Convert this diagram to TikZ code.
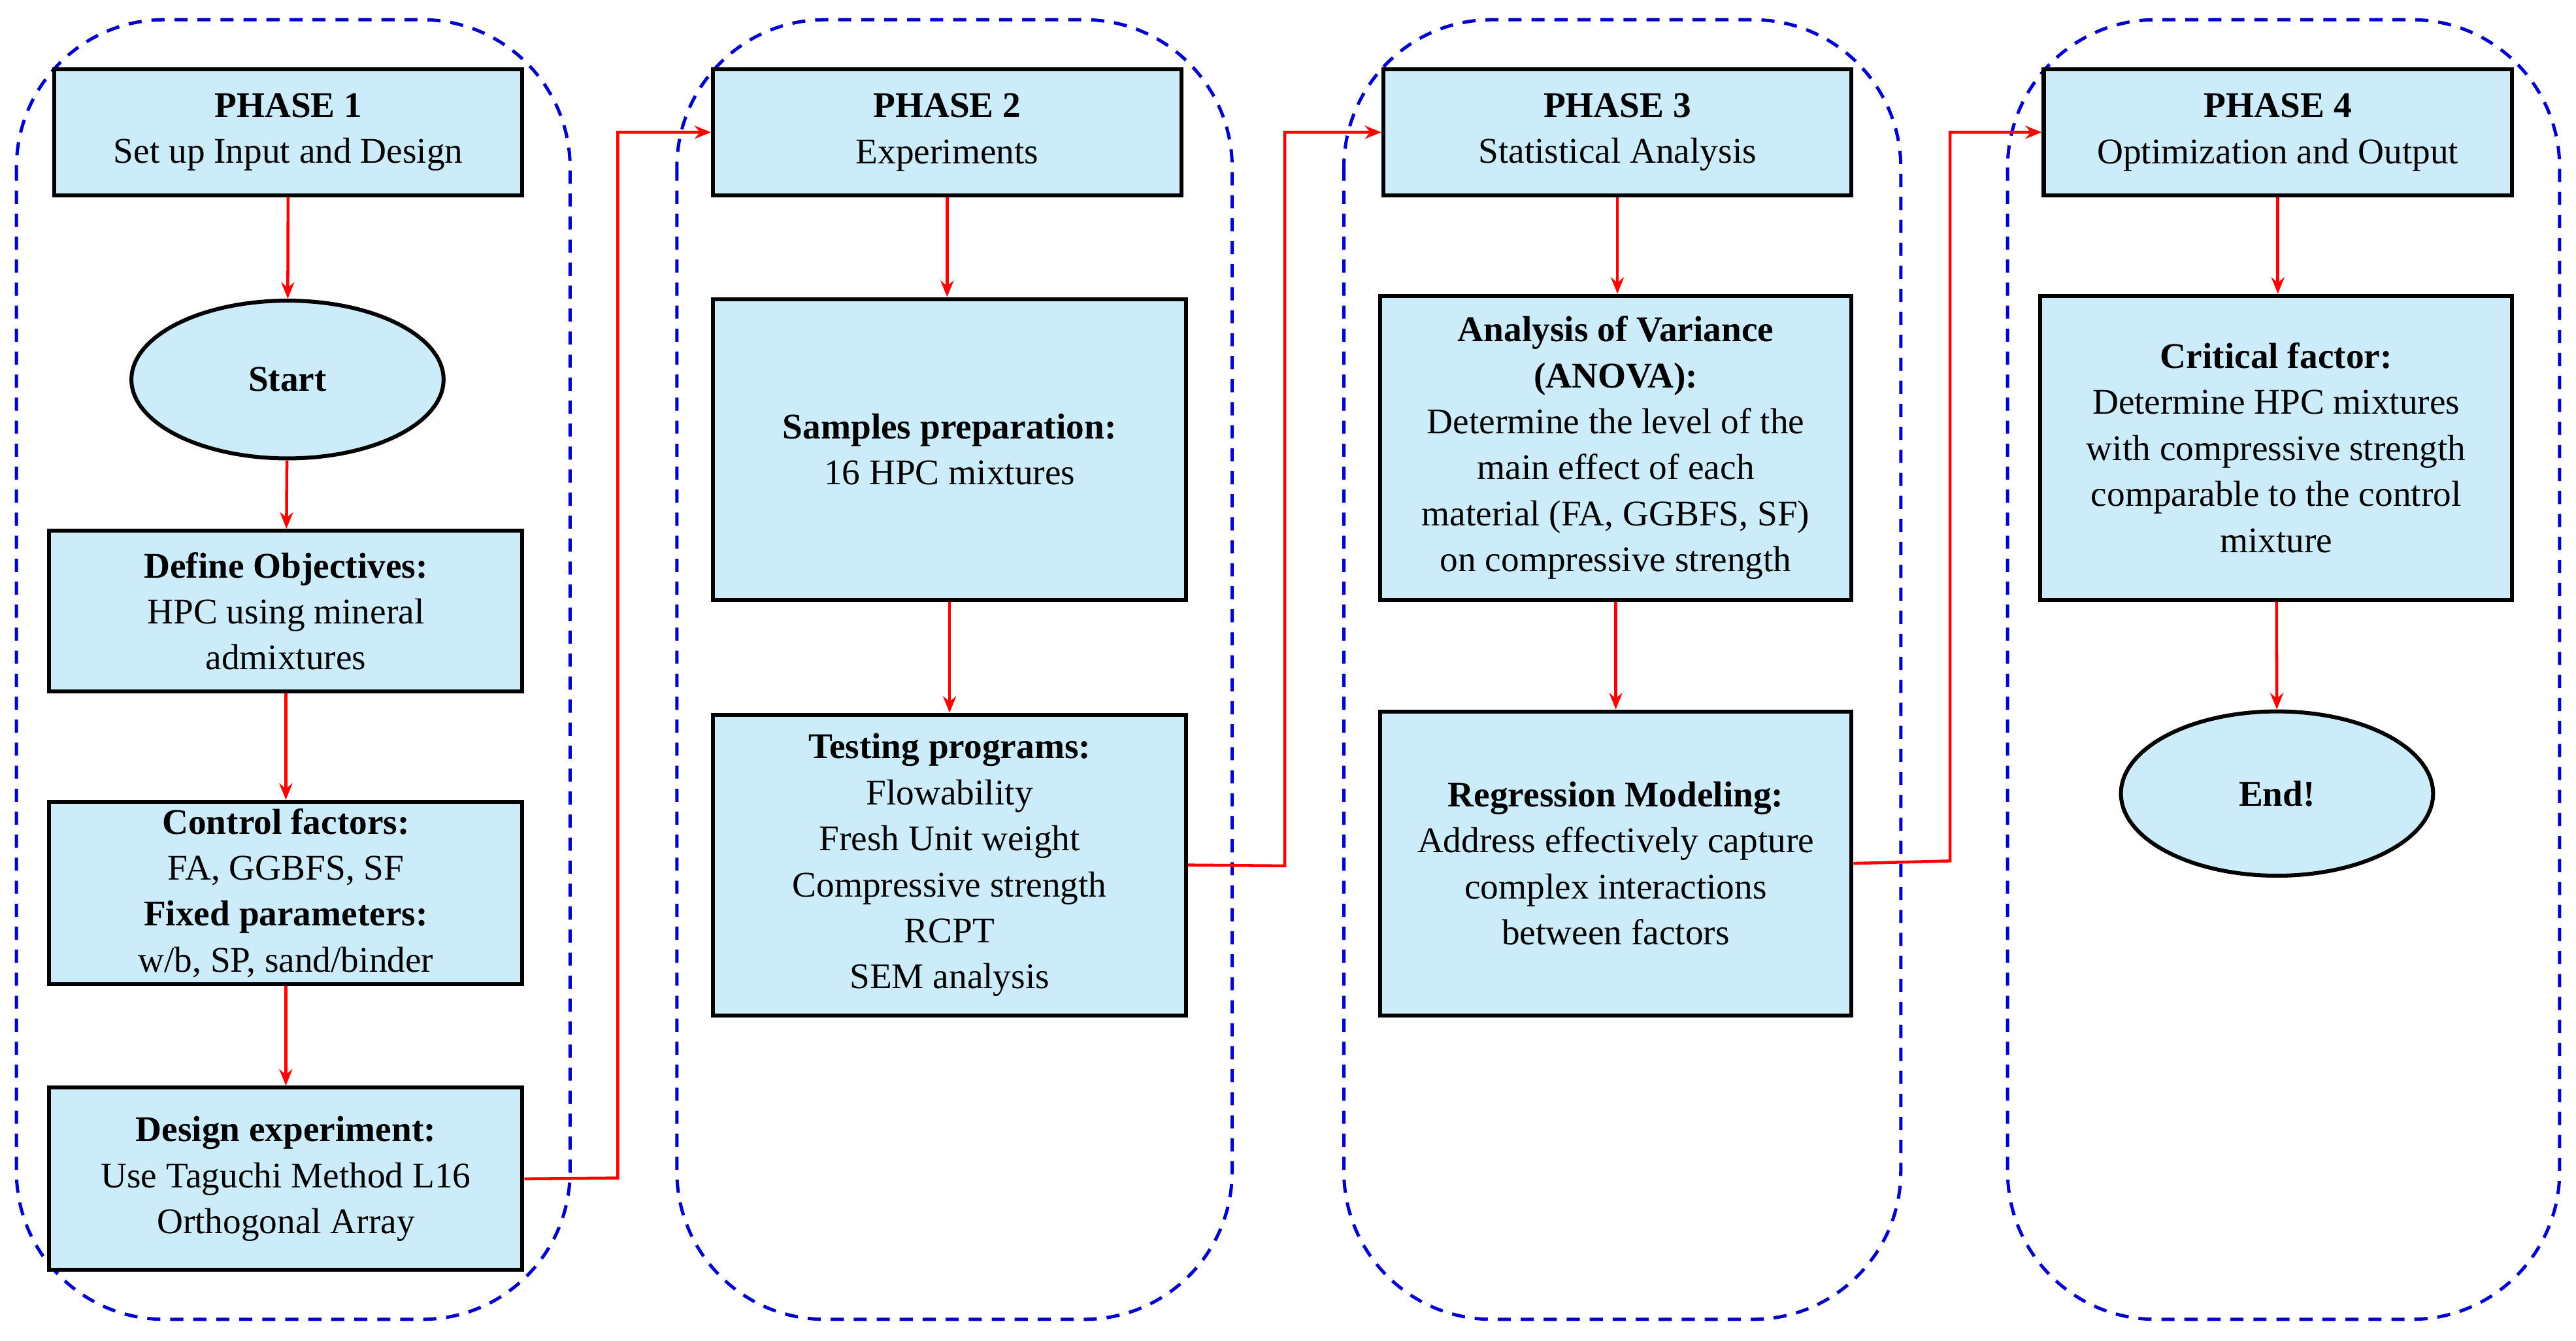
\documentclass[tikz,border=0pt]{standalone}
\usepackage{fontspec}
\setmainfont{Liberation Serif}
\usetikzlibrary{arrows.meta,shapes.geometric}
\definecolor{bfill}{RGB}{204,236,250}
\newcommand\bx[6]{\node[box,minimum width={(#4-#2)*0.5pt},minimum height={(#5-#3)*0.5pt}] (#1) at ({(#2+#4)/2},{(#3+#5)/2}) {#6};}
\newcommand\ph[5]{\draw[phase] (#2,12) rectangle (#3,803); \node[box,minimum width={(#5-#4)*0.5pt},minimum height={77*0.5pt}] (#1) at ({(#4+#5)/2},80.5) {\textbf{PHASE #1}\\[-2pt]};}
\begin{document}
\begin{tikzpicture}[x=0.5pt,y=-0.5pt,
 box/.style={draw=black,line width=1.2pt,fill=bfill,align=center,font=\fontsize{11}{14}\selectfont,inner sep=1pt},
 ell/.style={ellipse,draw=black,line width=1.2pt,fill=bfill,font=\fontsize{11}{14}\selectfont\bfseries,inner sep=0pt},
 phase/.style={draw=blue!80!black,line width=1pt,dash pattern=on 4pt off 3pt,rounded corners=45pt},
 arr/.style={draw=red,line width=0.9pt,-{Stealth[length=5pt,width=4pt]}}]
\useasboundingbox (0,0) rectangle (1568,816);
\foreach \a/\b in {10/347,412/750,818/1157,1222/1558}{\draw[phase] (\a,12) rectangle (\b,803);}
\bx{h1}{33}{42}{318}{119}{\textbf{PHASE 1}\\Set up Input and Design}
\bx{h2}{434}{42}{719}{119}{\textbf{PHASE 2}\\Experiments}
\bx{h3}{842}{42}{1127}{119}{\textbf{PHASE 3}\\Statistical Analysis}
\bx{h4}{1244}{42}{1529}{119}{\textbf{PHASE 4}\\Optimization and Output}
\node[ell,minimum width=95pt,minimum height=48pt] (start) at (175,231) {Start};
\bx{obj}{30}{323}{318}{421}{\textbf{Define Objectives:}\\HPC using mineral\\admixtures}
\bx{ctl}{30}{488}{318}{599}{\textbf{Control factors:}\\FA, GGBFS, SF\\\textbf{Fixed parameters:}\\w/b, SP, sand/binder}
\bx{des}{30}{662}{318}{773}{\textbf{Design experiment:}\\Use Taguchi Method L16\\Orthogonal Array}
\bx{smp}{434}{182}{722}{365}{\textbf{Samples preparation:}\\16 HPC mixtures}
\bx{tst}{434}{435}{722}{618}{\textbf{Testing programs:}\\Flowability\\Fresh Unit weight\\Compressive strength\\RCPT\\SEM analysis}
\bx{ano}{840}{180}{1127}{365}{\textbf{Analysis of Variance}\\\textbf{(ANOVA):}\\Determine the level of the\\main effect of each\\material (FA, GGBFS, SF)\\on compressive strength}
\bx{reg}{840}{433}{1127}{618}{\textbf{Regression Modeling:}\\Address effectively capture\\complex interactions\\between factors}
\bx{crt}{1242}{180}{1529}{365}{\textbf{Critical factor:}\\Determine HPC mixtures\\with compressive strength\\comparable to the control\\mixture}
\node[ell,minimum width=95pt,minimum height=50pt] (end) at (1386,483) {End!};
\draw[arr] (h1) -- (start);
\draw[arr] (start) -- (obj);
\draw[arr] (obj) -- (ctl);
\draw[arr] (ctl) -- (des);
\draw[arr] (h2) -- (h2|-smp.north);
\draw[arr] (smp) -- (tst);
\draw[arr] (h3) -- (h3|-ano.north);
\draw[arr] (ano) -- (reg);
\draw[arr] (h4) -- (h4|-crt.north);
\draw[arr] (crt) -- (end);
\draw[arr] (des.east) -- (376,717) |- (h2.west);
\draw[arr] (tst.east) -- (782,527) |- (h3.west);
\draw[arr] (reg.east) -- (1187,524) |- (h4.west);
\end{tikzpicture}
\end{document}
